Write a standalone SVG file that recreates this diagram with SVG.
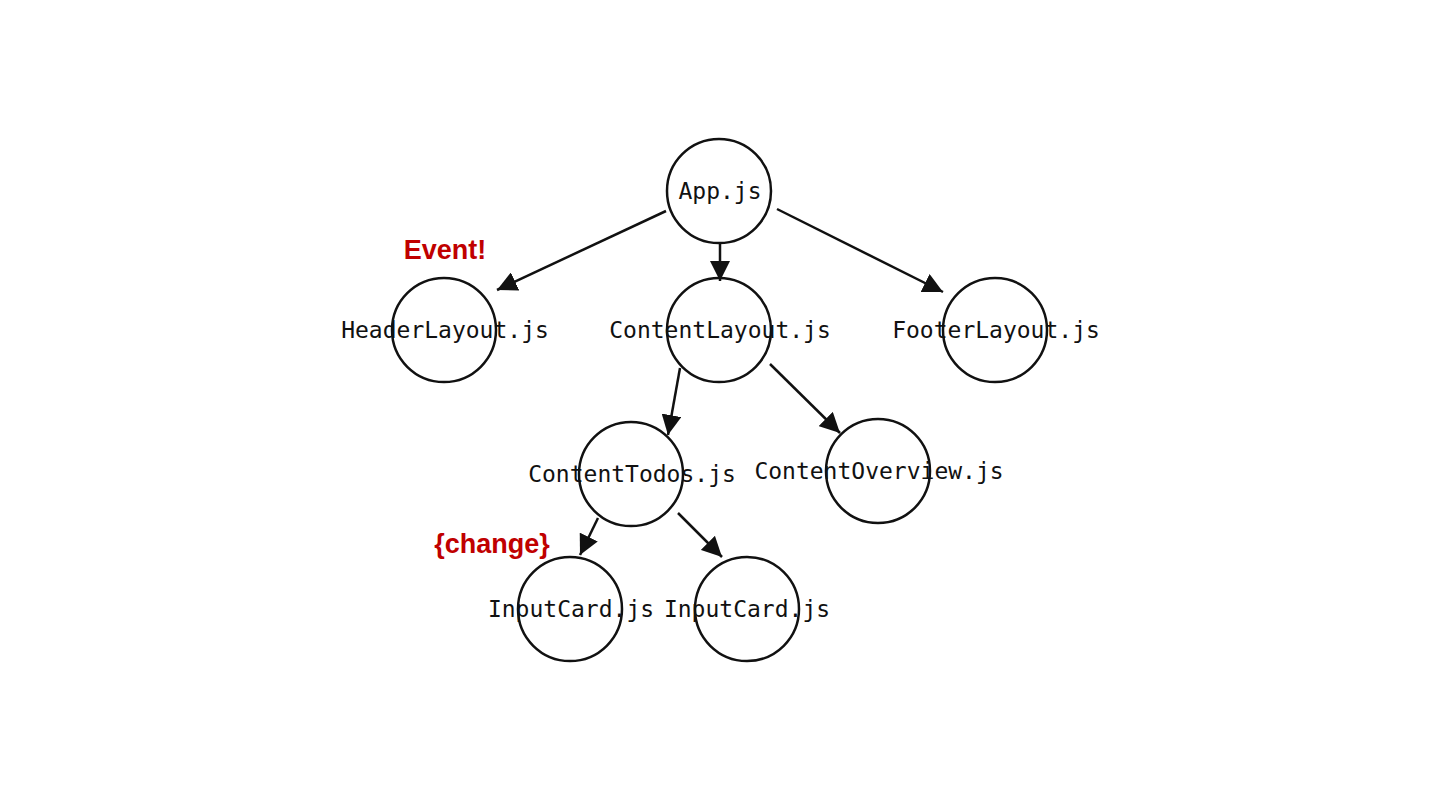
<svg xmlns="http://www.w3.org/2000/svg" width="1440" height="810" viewBox="0 0 1440 810">
<style>
.node circle{fill:none;stroke:#111;stroke-width:2.5}
.node text{font-family:"DejaVu Sans Mono","Liberation Mono",monospace;font-size:23px;fill:#111;text-anchor:middle}
.edge{stroke:#111;stroke-width:2.5;fill:none;marker-end:url(#ah)}
.note{font-family:"Liberation Sans",Arial,sans-serif;font-weight:bold;font-size:27px;fill:#c00000}
</style>
<defs>
<marker id="ah" viewBox="0 0 10 10" refX="10" refY="5" markerWidth="20" markerHeight="20" markerUnits="userSpaceOnUse" orient="auto">
<path d="M0,0 L10,5 L0,10 Z" fill="#111"/>
</marker>
</defs>
<rect width="1440" height="810" fill="#fff"/>
<g id="connectors">
<line class="edge" x1="666" y1="211" x2="497" y2="290"/>
<line class="edge" x1="720" y1="244" x2="720" y2="281"/>
<line class="edge" x1="777" y1="209" x2="943" y2="292"/>
<line class="edge" x1="680" y1="368" x2="668" y2="435"/>
<line class="edge" x1="770" y1="364" x2="840" y2="433"/>
<line class="edge" x1="598" y1="518" x2="580" y2="555"/>
<line class="edge" x1="678" y1="513" x2="722" y2="557"/>
</g>
<g id="n-app" class="node"><circle cx="719" cy="191" r="52"/><text x="720" y="199">App.js</text></g>
<g id="n-header" class="node"><circle cx="444" cy="330" r="52"/><text x="445" y="338">HeaderLayout.js</text></g>
<g id="n-content" class="node"><circle cx="719" cy="330" r="52"/><text x="720" y="338">ContentLayout.js</text></g>
<g id="n-footer" class="node"><circle cx="995" cy="330" r="52"/><text x="996" y="338">FooterLayout.js</text></g>
<g id="n-todos" class="node"><circle cx="631" cy="474" r="52"/><text x="632" y="482">ContentTodos.js</text></g>
<g id="n-overview" class="node"><circle cx="878" cy="471" r="52"/><text x="879" y="479">ContentOverview.js</text></g>
<g id="n-input1" class="node"><circle cx="570" cy="609" r="52"/><text x="571" y="617">InputCard.js</text></g>
<g id="n-input2" class="node"><circle cx="747" cy="609" r="52"/><text x="747" y="617">InputCard.js</text></g>
<text class="note" x="445" y="259" text-anchor="middle">Event!</text>
<text class="note" x="492" y="553" text-anchor="middle">{change}</text>
</svg>
